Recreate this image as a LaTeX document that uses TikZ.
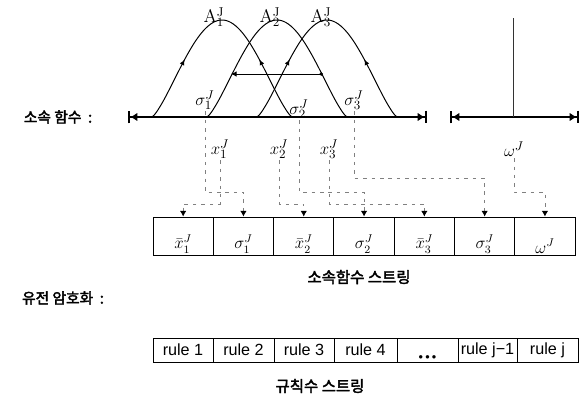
\documentclass[tikz,border=0pt]{standalone}
\usepackage{fontspec}
\setsansfont{Liberation Sans}
\newfontfamily\krfont[AutoFakeBold=2.5]{Noto Sans CJK KR}
\usetikzlibrary{arrows.meta,decorations.markings}

\begin{document}
\begin{tikzpicture}[
    x=0.025cm, y=-0.025cm,
    curve/.style={line width=0.7pt},
    flow/.style={decoration={markings,
        mark=at position 0.27 with {\arrow{Latex[length=4pt,width=3.5pt]}},
        mark=at position 0.73 with {\arrowreversed{Latex[length=4pt,width=3.5pt]}}},
        postaction={decorate}},
    dimline/.style={line width=0.8pt,
        {Bar[width=9pt,line width=1.6pt]Latex[length=5pt,width=6pt]}-{Latex[length=5pt,width=6pt]Bar[width=9pt,line width=1.6pt]}},
    route/.style={black!50, line width=0.6pt, dash pattern=on 2.5pt off 3.5pt,
        -{Latex[length=4pt,width=4.5pt,black]}},
    cellbox/.style={draw, line width=0.6pt, minimum width=1.5075cm,
        minimum height=0.95cm, inner sep=0pt},
    rulebox/.style={draw, line width=0.6pt, minimum height=0.6cm, inner sep=0pt,
        font=\sffamily\fontsize{11.5}{13}\selectfont},
    mlabel/.style={font=\fontsize{13}{15}\selectfont, inner sep=1pt},
    clabel/.style={font=\fontsize{12}{14}\selectfont, inner sep=0.5pt},
    krlabel/.style={font=\krfont\bfseries\fontsize{10.5}{12}\selectfont, inner sep=0pt}
  ]
  \useasboundingbox (0,0) rectangle (586,396);

  % ---- Left row labels ----
  \node[krlabel] (kmf) at (58,117) {소속 함수 \ :};
  \node[krlabel] (kga) at (63,298) {유전 암호화 \ :};

  % ---- Axes ----
  \coordinate (ax1L) at (128,117);
  \coordinate (ax1R) at (427,117);
  \coordinate (ax2L) at (450,117);
  \coordinate (ax2R) at (579,117);
  \draw[dimline] (ax1L) -- (ax1R);
  \draw[dimline] (ax2L) -- (ax2R);

  % ---- Membership functions ----
  \foreach \c in {222,327}{
    \draw[curve, flow] plot[domain=-1:1, samples=61]
      ({\c+70*\x},{117-97*pow(max(cos(90*\x),0.0001),1.3)});
  }
  \draw[curve] plot[domain=-1:1, samples=61]
    ({277+70*\x},{117-97*pow(max(cos(90*\x),0.0001),1.3)});

  % ---- Width arrow on A2 ----
  \coordinate (wL) at (231,74);
  \coordinate (wR) at (323,74);
  \draw[line width=0.7pt, {Latex[length=4pt,width=4pt]}-{Circle[length=2.5pt]}] (wL) -- (wR);

  % ---- Singleton for omega ----
  \coordinate (spT) at (513,18);
  \coordinate (spB) at (513,117);
  \draw[line width=0.6pt, black!80] (spT) -- (spB);

  % ---- Labels on the curves ----
  \node[mlabel] (a1) at (214,17) {$\mathrm{A}_1^{\mathrm{J}}$};
  \node[mlabel] (a2) at (270,17) {$\mathrm{A}_2^{\mathrm{J}}$};
  \node[mlabel] (a3) at (321,17) {$\mathrm{A}_3^{\mathrm{J}}$};
  \node[mlabel] (ls1) at (205,100) {$\sigma_1^{J}$};
  \node[mlabel] (ls2) at (299,109) {$\sigma_2^{J}$};
  \node[mlabel] (ls3) at (354,100) {$\sigma_3^{J}$};
  \node[mlabel] (lx1) at (220,149) {$x_1^{J}$};
  \node[mlabel] (lx2) at (279,149) {$x_2^{J}$};
  \node[mlabel] (lx3) at (329,149) {$x_3^{J}$};
  \node[mlabel] (lw) at (514,149) {$\omega^{J}$};

  % ---- Membership function string ----
  \foreach \t [count=\i] in {\bar{x}_1^{J},\sigma_1^{J},\bar{x}_2^{J},\sigma_2^{J},
                             \bar{x}_3^{J},\sigma_3^{J},\omega^{J}}{
    \node[cellbox] (c\i) at ({183.15+60.3*(\i-1)},236) {};
    \node[clabel, anchor=south] (t\i) at ([yshift=1pt]c\i.south) {$\t$};
  }
  \node[krlabel, font=\krfont\bfseries\fontsize{11}{13}\selectfont] (smf) at (359,277)
    {소속함수 스트링};

  % ---- Connectors down to the string ----
  \coordinate (yhi) at (0,178);
  \coordinate (ymid) at (0,192);
  \coordinate (ylo) at (0,204);
  \draw[route] (lx1.south) -- (lx1.south |- ylo) -| (c1.north);
  \draw[route] (ls1.south) -- (ls1.south |- ymid) -| (c2.north);
  \draw[route] (lx2.south) -- (lx2.south |- ylo) -| (c3.north);
  \draw[route] (ls2.south) -- (ls2.south |- ymid) -| (c4.north);
  \draw[route] (lx3.south) -- (lx3.south |- ylo) -| (c5.north);
  \draw[route] (ls3.south) -- (ls3.south |- yhi) -| (c6.north);
  \draw[route] (lw.south) -- (lw.south |- ymid) -| (c7.north);

  % ---- Rule string ----
  \foreach \a/\b/\t [count=\i] in {153/213/rule 1,213/274/rule 2,274/334/rule 3,
        334/397/rule 4,397/458/{},458/517/rule j−1,517/578/rule j}{
    \node[rulebox, minimum width={(\b-\a)*0.025cm}] (r\i) at ({(\a+\b)/2},350) {\t};
  }
  \node[font=\sffamily\fontsize{9}{9}\selectfont, inner sep=0pt] (dots)
    at ([yshift=2.5pt]r5.south) {\textbullet\,\textbullet\,\textbullet};
  \node[krlabel, font=\krfont\bfseries\fontsize{11}{13}\selectfont] (srs) at (320,386)
    {규칙수 스트링};

\end{tikzpicture}
\end{document}
